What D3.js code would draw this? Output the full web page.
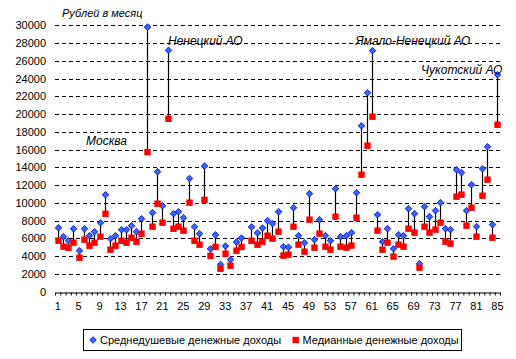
<!DOCTYPE html>
<html><head><meta charset="utf-8">
<script src="https://cdn.jsdelivr.net/npm/d3@7"></script>
<style>
html,body{margin:0;padding:0;background:#fff;}
svg{display:block;font-family:"Liberation Sans",Arial,sans-serif;}
</style></head>
<body>
<svg id="chart" width="516" height="359"></svg>
<script>
// Region numbers 1..85
const regions = d3.range(1, 86);
// Среднедушевые денежные доходы (руб./мес.)
const avgIncome = [7200,6200,5740,7080,4620,7080,6310,6740,7760,10910,
  5970,6310,6980,6980,7430,6760,8220,29800,8900,13510,
  9680,27180,8780,9010,8330,12750,7320,6530,14150,4820,
  6400,3060,5150,3610,5600,6040,null,7290,6610,7170,
  8000,7660,9010,5070,5000,9460,6310,5520,11040,5860,
  8110,6310,5750,11600,6200,6310,6650,11150,18690,22410,
  27140,8670,5630,7100,4850,6420,6310,9350,8790,3160,
  9580,8450,9130,10030,7100,6990,13740,13400,9130,12050,
  7330,13850,16330,7550,24440];
// Медианные денежные доходы (руб./мес.)
const medianIncome = [5740,5070,4950,5520,3830,5860,5180,5520,6200,8770,
  4730,5180,5740,5520,6080,5630,6530,15720,7320,9910,
  7770,19470,7090,7320,6870,10030,5740,5290,10340,4030,
  5040,2590,4280,2930,4620,5040,null,5740,5290,5630,
  6310,5970,6760,4060,4170,7320,5300,4510,8110,4960,
  6540,5070,4730,8450,5070,4960,5190,8330,13180,16440,
  19710,6870,4730,5520,3950,5300,5070,7100,6650,2710,
  7320,6650,6990,7770,5630,5410,10700,10930,7440,9460,
  6200,10810,12620,6080,18800];
const yTicks = d3.range(0, 30001, 2000);
const xTickLabels = d3.range(1, 86, 4);
const seriesNames = ["Среднедушевые денежные доходы", "Медианные денежные доходы"];
const unitLabel = "Рублей в месяц";
const annotations = [
  {text: "Москва", x: 86, y: 144.5},
  {text: "Ненецкий АО", x: 168, y: 44.5},
  {text: "Ямало-Ненецкий АО", x: 355.5, y: 44.5},
  {text: "Чукотский АО", x: 421, y: 73.5}
];

const svg = d3.select("#chart");
const plotLeft = 55.1, plotRight = 500, plotTop = 25.3, plotBottom = 291.7, gridRight = 502;

const x = d3.scaleBand().domain(regions).range([plotLeft, plotRight]).padding(0);
const xLin = d3.scaleLinear().domain([0.5, 85.5]).range([plotLeft, plotRight]);
const y = d3.scaleLinear().domain([0, 30000]).range([plotBottom, plotTop]);

// gridlines
svg.append("g").selectAll("line").data(yTicks.filter(d => d > 0)).join("line")
  .attr("x1", 55).attr("x2", gridRight)
  .attr("y1", d => Math.round(y(d)) + 0.5).attr("y2", d => Math.round(y(d)) + 0.5)
  .attr("stroke", "#000").attr("stroke-width", 1).attr("stroke-dasharray", "4,3");

// y axis labels
const yAxis = svg.append("g").attr("transform", `translate(55,0)`)
  .call(d3.axisLeft(y).tickValues(yTicks).tickSize(0).tickPadding(9).tickFormat(d3.format("d")));
yAxis.select(".domain").remove();
yAxis.selectAll("text").attr("font-size", 11).attr("font-family", "Liberation Sans, Arial, sans-serif").attr("fill", "#000");

// x axis line + boundary ticks
const xBase = Math.round(plotBottom) + 0.5;
const xTickAxis = svg.append("g").attr("transform", `translate(0,${xBase})`)
  .call(d3.axisBottom(xLin).tickValues(d3.range(0.5, 86, 1)).tickSize(3).tickSizeOuter(0).tickFormat(""));
xTickAxis.select(".domain").attr("stroke", "#000");
xTickAxis.selectAll(".tick line").attr("stroke", "#000");

const xLabelAxis = svg.append("g").attr("transform", `translate(0,${xBase})`)
  .call(d3.axisBottom(x).tickValues(xTickLabels).tickSize(0).tickPadding(10));
xLabelAxis.select(".domain").remove();
xLabelAxis.selectAll("text").attr("font-size", 11).attr("font-family", "Liberation Sans, Arial, sans-serif").attr("fill", "#000");

// data
const data = regions.map((r, i) => ({r, a: avgIncome[i], m: medianIncome[i]})).filter(d => d.a != null && d.m != null);
const cx = d => x(d.r) + x.bandwidth() / 2;

svg.append("g").selectAll("line").data(data).join("line")
  .attr("x1", d => Math.round(cx(d)) + 0.5).attr("x2", d => Math.round(cx(d)) + 0.5)
  .attr("y1", d => y(d.a)).attr("y2", d => y(d.m))
  .attr("stroke", "#000").attr("stroke-width", 1.2);

const dia = 3.3;
svg.append("g").selectAll("path").data(data).join("path")
  .attr("d", d => {
    const px = Math.round(cx(d)) + 0.5, py = y(d.a);
    return `M${px},${py - dia}L${px + dia},${py}L${px},${py + dia}L${px - dia},${py}Z`;
  })
  .attr("fill", "#3366ff").attr("stroke", "#0000c0").attr("stroke-width", 0.8);

const sq = 6.4;
svg.append("g").selectAll("rect").data(data).join("rect")
  .attr("x", d => Math.round(cx(d)) + 0.5 - sq / 2).attr("y", d => y(d.m) - sq / 2)
  .attr("width", sq).attr("height", sq).attr("fill", "#ff0000");

// annotations
svg.append("text").attr("x", 62).attr("y", 16.5).attr("font-size", 11).attr("font-style", "italic").text(unitLabel);
svg.append("g").selectAll("text").data(annotations).join("text")
  .attr("x", d => d.x).attr("y", d => d.y).attr("font-size", 12).attr("font-style", "italic").text(d => d.text);

// legend
const lg = svg.append("g");
lg.append("rect").attr("x", 83.5).attr("y", 329.5).attr("width", 378).attr("height", 21)
  .attr("fill", "#fff").attr("stroke", "#000").attr("stroke-width", 1);
lg.append("path").attr("d", `M93,${340 - dia}L${93 + dia},340L93,${340 + dia}L${93 - dia},340Z`)
  .attr("fill", "#3366ff").attr("stroke", "#0000c0").attr("stroke-width", 0.8);
lg.append("text").attr("x", 100).attr("y", 344).attr("font-size", 11).text(seriesNames[0]);
lg.append("rect").attr("x", 295.7 - sq / 2).attr("y", 340 - sq / 2).attr("width", sq).attr("height", sq).attr("fill", "#ff0000");
lg.append("text").attr("x", 302.5).attr("y", 344).attr("font-size", 11).text(seriesNames[1]);
</script>
</body></html>
